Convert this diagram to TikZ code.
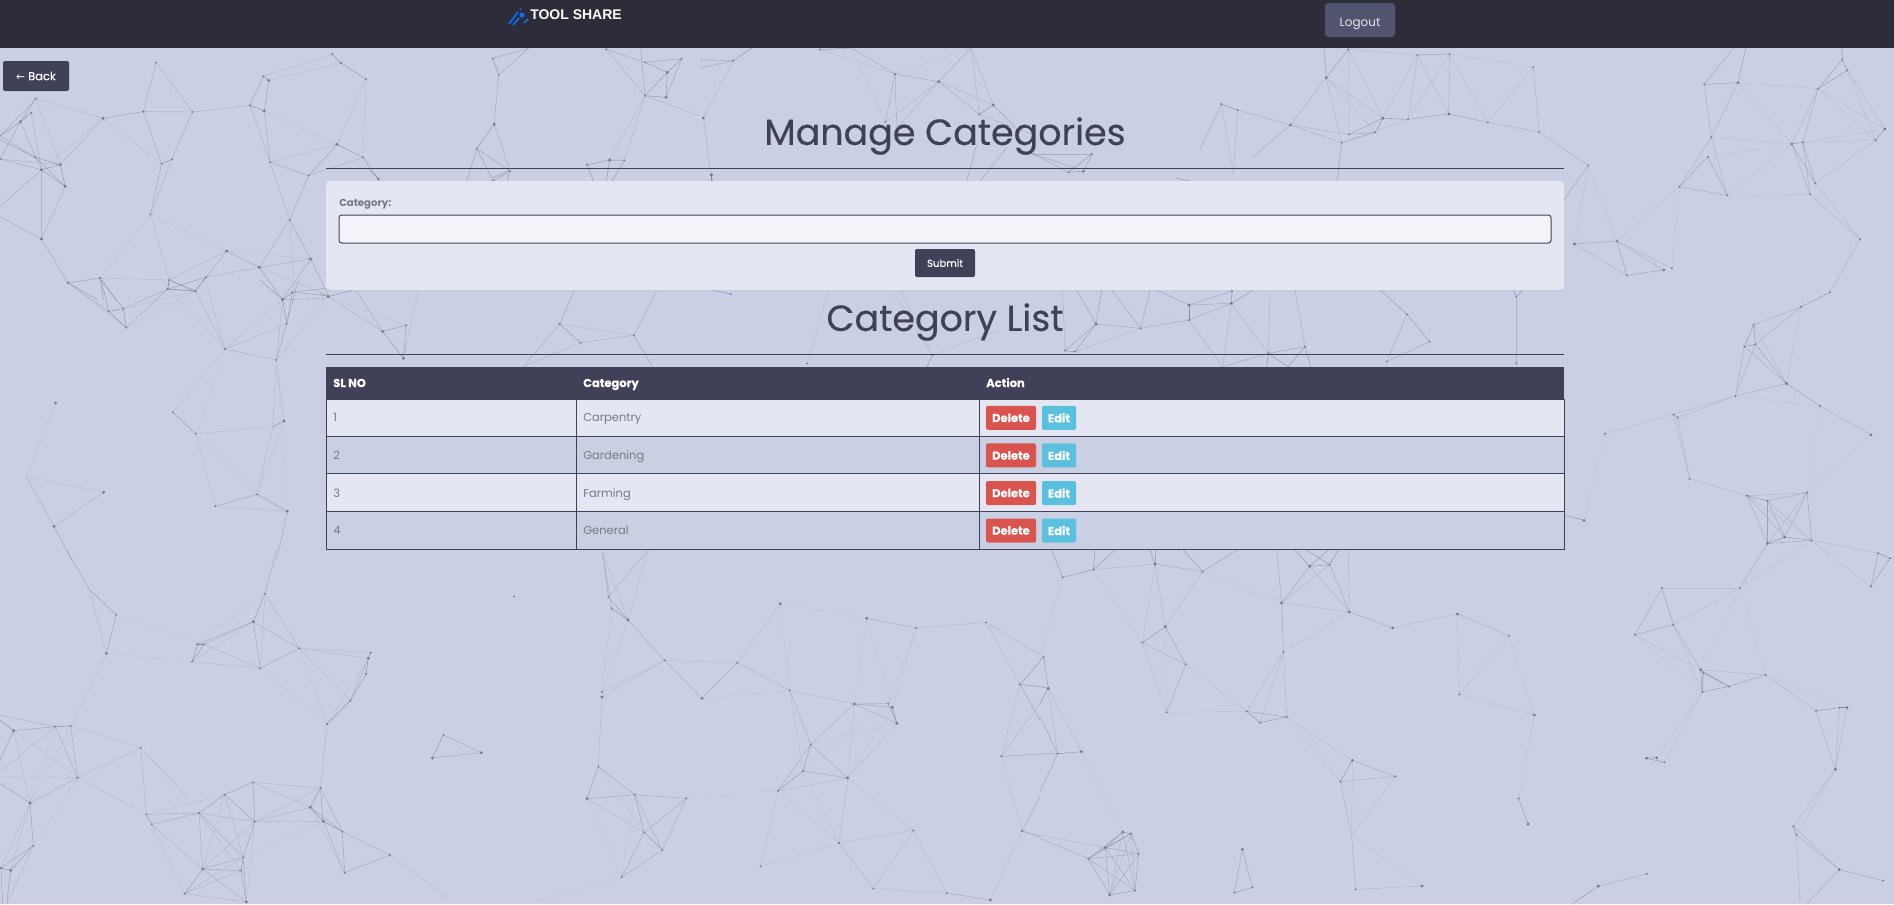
\documentclass[tikz,border=0pt]{standalone}
\usepackage{fontspec}
\setmainfont{Poppins}
\newfontfamily\arialfont{Liberation Sans}
\newfontfamily\arrowfont{DejaVu Sans}
\newfontfamily\mediumfont[FakeBold=.3]{Poppins}
\newfontfamily\heavyfont[BoldFeatures={FakeBold=.3}]{Poppins}
\usepackage{tikz}
\usetikzlibrary{positioning,calc,shadows}
\definecolor{pagebg}{HTML}{CAD0E4}
\definecolor{topbar}{HTML}{2D2D3A}
\definecolor{slate}{HTML}{3F4158}
\definecolor{cardbg}{HTML}{E4E7F1}
\definecolor{inputbg}{HTML}{F3F5FB}
\definecolor{logoutbg}{HTML}{50546F}
\definecolor{greytext}{HTML}{777A86}
\definecolor{delred}{HTML}{D9534F}
\definecolor{editblue}{HTML}{5BC0DE}
\definecolor{logoblue}{HTML}{0D6EFD}
\definecolor{netcol}{HTML}{5A5E76}
\definecolor{dotcol}{HTML}{73778F}
\tikzset{
  netline/.style={line width=.3pt},
  btn/.style={rectangle, rounded corners=1.5pt, inner sep=0pt, text=white, font=\fontsize{8.6}{10}\heavyfont\bfseries},
  celltxt/.style={anchor=west, inner sep=0pt, text=greytext, font=\fontsize{8.6}{10}\selectfont, text height=6.5pt, text depth=2pt},
  headtxt/.style={anchor=west, inner sep=0pt, text=white, font=\fontsize{8.6}{10}\heavyfont\bfseries, text height=6.5pt, text depth=2pt},
  heading/.style={inner sep=0pt, text=slate, font=\fontsize{27.3}{32}\mediumfont},
  rule/.style={draw=slate, line width=.75pt},
}
\newcommand{\netdots}[2]{\foreach \p in {#2} \fill[dotcol] \p circle [radius={.72*#1 pt}];}
% long links fade out: each segment of a chain gets its colour from its length
\newcommand{\netunit}[2]{\def\netxu{#1}\def\netyu{#2}}
\makeatletter
\def\netpath#1;{\net@walk#1\net@stop}
\def\net@walk(#1,#2)--(#3,#4){%
  \pgfmathsetmacro{\segpct}{max(6,min(60,72-.95*veclen((#3-#1)*\netxu,(#4-#2)*\netyu)))}%
  \draw[netline, draw=netcol!\segpct!pagebg] (#1,#2) -- (#3,#4);%
  \@ifnextchar-{\net@more{#3}{#4}}{\@ifnextchar({\net@walk}{\@gobble}}}
\def\net@more#1#2--{\net@walk(#1,#2)--}
\makeatother
\begin{document}
\begin{tikzpicture}[x=.75pt, y=-.75pt]
\fill[pagebg] (0,0) rectangle (1894,904);
\useasboundingbox (0,0) rectangle (1894,904);

% background network, left top
\begin{scope}[shift={(0,0)}, x=.3348pt, y=-.25pt]
\netunit{.3348}{.25}
\netpath (80,296)--(231,355)--(321,335)--(431,336)--(560,316)--(592,333)--(602,241)--(590,229)--(560,316);
\netpath (744,162)--(764,189)--(820,238) (590,229)--(744,162) (602,241)--(764,189);
\netpath (350,188)--(321,335) (350,188)--(431,336)--(385,478)--(362,491)--(321,335);
\netpath (80,296)--(46,365)--(0,477)--(135,494)--(80,296) (70,338)--(46,365)--(93,509)--(135,494) (70,338)--(93,509);
\netpath (0,408)--(46,365) (0,408)--(79,472)--(146,559)--(135,494) (93,509)--(146,559) (0,477)--(93,509) (0,420)--(79,472)--(135,494) (80,296)--(0,408);
\netpath (93,509)--(93,717)--(146,559) (0,650)--(93,717)--(153,849)--(224,834)--(379,840) (0,620)--(93,509);
\netpath (231,355)--(135,494) (231,355)--(93,509) (231,355)--(362,491)--(337,643)--(385,478) (337,643)--(379,840) (337,643)--(508,753) (337,643)--(224,834);
\netpath (560,316)--(605,487)--(691,527)--(755,433)--(813,472)--(848,538) (755,433)--(605,487) (592,333)--(755,433) (592,333)--(605,487);
\netpath (691,527)--(649,659)--(605,487) (820,238)--(755,433) (820,238)--(813,472)--(691,527);
\netpath (649,659)--(581,802) (649,659)--(696,777)--(736,888) (696,777)--(632,898) (649,659)--(660,880);
\netpath (508,753)--(581,802)--(696,777) (508,753)--(437,874)--(379,840) (508,753)--(379,840) (508,753)--(696,777) (581,802)--(736,888);
\netpath (581,802)--(461,832)--(376,867) (461,832)--(437,874)--(376,867)--(379,840) (581,802)--(632,898) (655,877)--(736,888);
\netpath (224,834)--(260,900) (153,849)--(220,900) (224,834)--(232,900);
\netpath (1104,175)--(1117,225)--(1107,373)--(1068,446)--(1143,514)--(1105,542)--(1068,446) (1104,175)--(1185,144) (1117,225)--(1185,144) (1107,373)--(1143,514) (1068,446)--(1045,545);
\netpath (1315,494)--(1366,480)--(1399,481)--(1370,545) (1315,494)--(1330,545) (1366,480)--(1358,545);
\netpath (1358,148)--(1445,187)--(1527,176)--(1495,217)--(1445,187) (1495,217)--(1445,287)--(1492,292)--(1495,217) (1527,176)--(1492,292);
\netpath (1435,144)--(1445,287)--(1568,348) (1358,148)--(1445,287) (1445,287)--(1365,480) (1445,287)--(1399,481);
\netdots{1.1}{(80,296),(321,335),(431,336),(560,316),(590,229),(744,162),(764,189),(820,238),(350,188),(385,478),(362,491),(0,477),(70,338),(79,472),(605,487),(691,527),(813,472),(848,538),(649,659),(153,849),(224,834),(379,840),(461,832),(437,874),(376,867),(632,898),(655,877),(736,888),(1104,175),(1117,225),(1068,446),(1143,514),(1105,542),(1315,494),(1399,481),(1358,148),(1445,187),(1527,176),(1445,287),(337,643)}
\netdots{1.6}{(231,355),(592,333),(602,241),(46,365),(135,494),(93,509),(146,559),(93,717),(755,433),(508,753),(581,802),(696,777),(1107,373),(1366,480),(1495,217),(1492,292)}
\end{scope}

% background network, right top
\begin{scope}[shift={(1200,0)}, x=.332pt, y=-.25pt]
\netunit{.332}{.25}
\netpath (335,148)--(285,233)--(204,375)--(320,428)--(396,397)--(413,355)--(285,233)--(320,428) (285,233)--(396,397) (48,312)--(85,330)--(204,375)--(336,403)--(396,397);
\netpath (336,403)--(413,355)--(470,358)--(562,342)--(650,367)--(766,396)--(877,496)--(942,723)--(846,732)--(964,826)--(942,723)--(1048,810)--(964,826);
\netpath (942,723)--(1066,805)--(1083,560)--(942,723) (877,496)--(846,732) (877,496)--(822,600);
\netpath (335,148)--(491,165)--(564,162)--(753,201)--(650,367) (753,201)--(766,396) (491,165)--(413,355) (491,165)--(470,358) (491,165)--(562,342)--(564,162)--(470,358) (564,162)--(650,367);
\netpath (335,148)--(336,403) (335,148)--(413,355) (320,428)--(470,358) (320,428)--(310,545) (48,312)--(75,520) (48,312)--(0,450) (85,330)--(75,520) (204,375)--(120,470) (280,144)--(285,233);
\netpath (1139,253)--(1215,248)--(1396,266)--(1451,178)--(1462,211)--(1396,266) (1450,144)--(1451,178) (1139,253)--(1155,412) (1215,248)--(1155,412) (1215,248)--(1337,432) (1233,144)--(1215,248) (1139,253)--(1205,144);
\netpath (1155,412)--(1337,432)--(1362,427)--(1526,421)--(1547,387)--(1396,266) (1462,211)--(1547,387) (1462,211)--(1526,421)--(1396,266)--(1337,432) (1396,266)--(1362,427);
\netpath (1155,412)--(1083,560)--(1147,471)--(1191,586)--(1083,560) (1155,412)--(1191,586)--(1337,432)--(1147,471) (1191,586)--(1378,583)--(1337,432)--(1390,550)--(1362,427)--(1378,583) (1390,550)--(1526,421);
\netpath (1378,583)--(1491,718)--(1423,877)--(1390,900) (1390,550)--(1491,718) (1362,427)--(1547,387);
\netdots{1.1}{(335,148),(320,428),(396,397),(48,312),(85,330),(336,403),(470,358),(650,367),(766,396),(877,496),(942,723),(964,826),(1066,805),(1083,560),(491,165),(564,162),(753,201),(1139,253),(1396,266),(1451,178),(1462,211),(1155,412),(1362,427),(1526,421),(1147,471),(1191,586),(1378,583),(1390,550),(1491,718),(1423,877)}
\netdots{1.6}{(285,233),(204,375),(413,355),(562,342),(846,732),(1048,810),(1215,248),(1337,432),(1547,387)}
\end{scope}

% background network, behind the first heading
\begin{scope}[shift={(700,48)}, x=.25pt, y=-.25pt]
\netunit{.25}{.25}
\netpath (0,35)--(100,38)--(10,210)--(33,380)--(40,405) (100,38)--(155,0) (0,60)--(100,38);
\netpath (360,5)--(455,0)--(585,78)--(716,101)--(813,0) (360,5)--(585,78)--(556,222)--(716,101)--(590,240)--(585,78)--(813,0) (455,0)--(556,222);
\netpath (716,101)--(838,199)--(880,171)--(716,101) (838,199)--(813,0)--(880,171)--(945,235) (838,199)--(1000,260);
\netpath (1000,318)--(1123,360)--(1176,318)--(1000,318) (1123,360)--(1105,373)--(1150,370)--(1176,318) (1000,318)--(1105,373);
\netpath (1428,390)--(1470,400) (800,400)--(830,290) (840,400)--(920,300);
\netdots{1.1}{(100,38),(360,5),(585,78),(838,199),(556,222),(1000,318),(1176,318),(1105,373),(33,380)}
\netdots{1.6}{(10,210),(716,101),(880,171),(1150,370)}
\end{scope}

% background network, between form and table
\begin{scope}[shift={(320,170)}, x=.3348pt, y=-.25pt]
\netunit{.3348}{.25}
\netpath (130,25)--(110,0) (425,0)--(420,33) (385,25)--(425,0) (877,15)--(877,33);
\netpath (18,380)--(140,484)--(193,466)--(187,565)--(140,484) (18,380)--(75,360) (18,380)--(0,370) (80,360)--(140,484) (220,360)--(187,565) (18,380)--(193,466);
\netpath (537,462)--(584,518)--(703,496)--(537,462)--(455,590) (584,518)--(455,590) (703,496)--(755,360) (703,496)--(745,590) (570,360)--(537,462) (920,372)--(880,360) (1091,580)--(1140,360);
\netpath (1372,555)--(1280,360) (1372,555)--(1300,360) (1372,555)--(1360,590) (1372,555)--(1520,480);
\netdots{1.1}{(130,25),(193,466),(537,462),(584,518),(703,496),(920,372),(1091,580),(1372,555)}
\netdots{1.6}{(18,380),(140,484),(187,565),(877,15)}
\end{scope}
\begin{scope}[shift={(1020,285)}, x=.25pt, y=-.25pt]
\netunit{.25}{.25}
\netpath (228,117)--(135,197)--(165,200)--(228,117)--(362,130)--(507,105)--(507,60)--(634,55)--(636,18)--(362,130) (507,105)--(634,55);
\netpath (228,117)--(170,15) (228,117)--(245,15) (135,197)--(128,15) (165,200)--(362,130)--(390,15) (362,130)--(275,15) (507,60)--(410,15) (507,60)--(636,18);
\netpath (507,105)--(608,245)--(634,55)--(745,205)--(855,185)--(872,245) (745,205)--(608,245) (745,205)--(805,245)--(855,185) (745,205)--(740,245) (634,55)--(700,15) (745,205)--(750,15) (855,185)--(825,15);
\netpath (1161,88)--(1100,230)--(1229,170)--(1161,88)--(1080,15) (1489,35)--(1489,235) (1489,35)--(1480,15) (1489,35)--(1510,15);
\netdots{1.1}{(135,197),(165,200),(362,130),(507,105),(636,18),(745,205),(855,185),(1161,88),(1100,230),(1229,170),(1489,35),(1489,235)}
\netdots{1.6}{(228,117),(507,60),(634,55)}
\end{scope}

% background network, bottom left
\begin{scope}[shift={(0,550)}, x=.25pt, y=-.25pt]
\netunit{.25}{.25}
\netpath (200,0)--(269,120)--(349,194)--(319,310)--(269,120) (349,194)--(612,283) (319,310)--(576,335);
\netpath (830,0)--(795,131)--(760,215)--(781,355)--(898,295)--(760,215) (795,131)--(898,295) (795,131)--(781,355) (795,131)--(592,283)--(760,215)--(612,283)--(576,335)--(592,283)--(612,283)--(781,355)--(576,335)--(760,215);
\netpath (898,295)--(1112,308)--(1105,325)--(898,295) (1105,325)--(1098,372)--(1051,452)--(981,522)--(898,295) (1112,308)--(1051,452) (898,295)--(1051,452) (1105,325)--(981,522) (781,355)--(981,522)--(962,714);
\netpath (0,495)--(165,530) (0,510)--(41,542)--(165,530)--(212,528)--(233,683)--(90,759)--(41,542)--(233,683)--(165,530)--(90,759)--(212,528)--(422,593)--(233,683);
\netpath (319,310)--(212,528) (41,542)--(0,630) (0,665)--(165,530) (0,680)--(233,683) (0,700)--(90,759)--(100,887)--(32,961)--(90,759) (100,887)--(3,954)--(32,961) (233,683)--(100,887)--(20,1062) (3,954)--(90,759) (32,961)--(20,1062) (3,954)--(8,1062);
\netpath (422,593)--(439,793)--(455,823)--(597,789)--(439,793)--(233,683) (422,593)--(560,740) (439,793)--(674,734) (455,823)--(608,957) (455,823)--(554,1031);
\netpath (597,789)--(674,734)--(759,697)--(764,815)--(674,734)--(730,922) (597,789)--(764,815)--(931,772)--(759,697) (674,734)--(608,957)--(597,789)--(730,922)--(764,815)--(608,957)--(730,922);
\netpath (597,789)--(723,962)--(608,957)--(554,1031)--(739,1056)--(608,957) (730,922)--(723,962)--(739,1056)--(730,922)--(554,1031)--(723,962) (739,1056)--(764,815)--(970,814)--(931,772)--(962,714)--(968,810);
\netpath (759,697)--(962,714)--(764,815) (962,714)--(1027,845)--(970,814)--(1034,968)--(1027,845)--(1170,915)--(1034,968) (931,772)--(1027,845) (931,772)--(1034,968) (730,922)--(970,814) (1170,915)--(1340,1040);
\netpath (1330,555)--(1444,608)--(1297,624)--(1330,555);
\netdots{1.1}{(349,194),(576,335),(795,131),(592,283),(612,283),(781,355),(898,295),(1112,308),(1098,372),(1051,452),(981,522),(962,714),(165,530),(212,528),(422,593),(100,887),(3,954),(439,793),(455,823),(597,789),(674,734),(759,697),(764,815),(730,922),(723,962),(554,1031),(1027,845),(1034,968),(1170,915),(1330,555),(1542,140),(233,683)}
\netdots{1.6}{(319,310),(760,215),(1105,325),(41,542),(90,759),(32,961),(608,957),(739,1056),(931,772),(970,814),(1444,608),(1297,624)}
\end{scope}

% background network, bottom middle
\begin{scope}[shift={(520,550)}, x=.25pt, y=-.25pt]
\netunit{.25}{.25}
\netpath (248,8)--(265,141)--(324,210)--(434,331)--(546,445)--(652,338)--(781,161)--(1040,205)--(1189,234)--(1398,217)--(1500,403)--(1560,335);
\netpath (248,8)--(275,175)--(324,210)--(248,8) (265,141)--(385,0) (324,210)--(385,0) (275,175)--(246,426)--(324,210) (246,426)--(434,331)--(246,441);
\netpath (434,331)--(652,338)--(809,421)--(781,161) (546,445)--(809,421)--(1003,462)--(1040,205) (809,421)--(872,583)--(1003,462)--(1117,472)--(1131,520)--(1003,462)--(1105,461)--(1131,520) (1189,234)--(1105,461) (1040,205)--(1117,472)--(1189,234);
\netpath (246,441)--(235,650)--(344,734)--(373,847)--(427,900)--(344,734) (235,650)--(201,746)--(344,734)--(499,745)--(427,900)--(305,981)--(373,847)--(499,745) (201,746)--(373,847) (201,746)--(305,981) (235,650)--(373,847) (344,734)--(305,981) (499,745)--(774,722) (305,981)--(50,1055);
\netpath (872,583)--(849,663)--(983,684)--(872,583)--(774,722)--(849,663) (774,722)--(983,684)--(1003,462) (983,684)--(1131,520)--(872,583) (1117,472)--(983,684) (1105,461)--(849,663)--(809,421) (849,663)--(957,879)--(983,684) (774,722)--(957,879) (774,722)--(722,949)--(957,879)--(1180,841)--(1060,1016)--(957,879);
\netpath (983,684)--(1180,841)--(1280,1029)--(1411,1050)--(1506,843)--(1560,860) (1060,1016)--(1280,1029);
\netpath (1398,217)--(1560,315) (1500,403)--(1560,410) (1500,403)--(1444,619)--(1560,612) (1444,619)--(1506,843) (1500,403)--(1560,510) (1444,619)--(1560,460) (1506,843)--(1560,740);
\netdots{1.1}{(265,141),(275,175),(434,331),(652,338),(809,421),(1189,234),(1398,217),(1500,403),(246,426),(344,734),(373,847),(427,900),(305,981),(499,745),(235,650),(872,583),(849,663),(774,722),(957,879),(1180,841),(1060,1016),(1280,1029),(1506,843),(1444,619),(722,949),(1105,461)}
\netdots{1.6}{(324,210),(546,445),(781,161),(1040,205),(1003,462),(1117,472),(1131,520),(246,441),(201,746),(983,684),(1411,1050)}
\end{scope}

% background network, bottom right of the table
\begin{scope}[shift={(1040,550)}, x=.25pt, y=-.25pt]
\netunit{.25}{.25}
\netpath (35,0)--(68,82)--(160,59)--(345,42)--(488,65)--(376,230)--(307,278)--(437,343)--(376,230)--(345,42)--(307,278) (160,59)--(225,0) (160,59)--(165,0) (345,42)--(330,0) (345,42)--(348,0) (488,65)--(430,0) (488,65)--(725,159) (160,59)--(307,278) (68,82)--(0,320) (488,65)--(590,0);
\netpath (437,343)--(380,487)--(307,278) (376,230)--(380,487)--(620,484)--(660,518)--(740,501)--(620,484) (437,343)--(620,484)--(730,306)--(660,518) (730,306)--(740,501) (725,159)--(730,306)--(928,186);
\netpath (725,159)--(809,49)--(869,44)--(725,159)--(928,186)--(809,49) (869,44)--(928,186)--(925,0) (809,49)--(765,0) (869,44)--(800,0) (869,44)--(895,0) (809,49)--(865,0) (725,159)--(710,0);
\netpath (928,186)--(1058,234)--(1252,192)--(1407,257)--(1258,433)--(1252,192) (1407,257)--(1483,495)--(1258,433) (1483,495)--(1436,745)--(1464,822);
\netpath (740,501)--(937,631)--(1066,679)--(901,695)--(937,631) (740,501)--(901,695) (937,631)--(935,857)--(901,695) (1066,679)--(935,857)--(947,1018)--(1146,1008)--(935,857);
\netpath (11,321)--(25,415)--(53,611)--(124,605)--(25,415) (25,415)--(0,410) (0,612)--(53,611)--(0,725) (25,415)--(0,460) (0,500)--(53,611) (11,321)--(0,330) (124,605)--(245,835);
\netpath (145,926)--(196,893)--(248,846)--(273,851)--(296,911)--(285,1022)--(209,1035)--(145,926)--(248,846) (145,926)--(273,851)--(209,1035) (145,926)--(296,911)--(196,893)--(285,1022) (196,893)--(209,1035) (145,926)--(285,1022)--(248,846)--(209,1035) (273,851)--(285,1022) (296,911)--(209,1035) (196,893)--(273,851) (0,855)--(196,893) (0,865)--(145,926);
\netpath (607,898)--(637,1012)--(583,1028)--(607,898);
\netdots{1.1}{(68,82),(160,59),(488,65),(307,278),(437,343),(380,487),(620,484),(660,518),(740,501),(730,306),(869,44),(1407,257),(1258,433),(1436,745),(1066,679),(901,695),(947,1018),(11,321),(53,611),(145,926),(273,851),(296,911),(285,1022),(583,1028),(637,1012)}
\netdots{1.6}{(345,42),(376,230),(725,159),(809,49),(928,186),(1058,234),(1252,192),(1483,495),(1464,822),(937,631),(1146,1008),(25,415),(124,605),(196,893),(248,846),(209,1035),(607,898)}
\end{scope}

% background network, right side
\begin{scope}[shift={(1560,300)}, x=.25pt, y=-.289pt]
\netunit{.25}{.289}
\netpath (723,18)--(581,64)--(553,121)--(586,115)--(723,18) (581,64)--(586,115)--(526,249)--(553,121)--(679,217)--(581,64) (586,115)--(679,217)--(526,249)--(340,297)--(135,347)--(72,572)--(12,558) (679,217)--(780,275)--(933,350) (723,18)--(679,217) (723,18)--(765,0);
\netpath (526,249)--(353,305)--(340,297)--(389,464)--(561,508) (353,305)--(389,464) (526,249)--(780,275)--(741,500)--(933,350);
\netpath (561,508)--(622,521)--(741,500)--(755,624)--(622,632)--(561,508)--(755,624)--(622,521)--(622,632)--(674,615)--(755,624) (622,521)--(674,615)--(741,500)--(622,632)--(540,747)--(755,624) (561,508)--(674,615) (561,508)--(741,500) (755,624)--(954,657)--(990,670)--(933,743)--(954,657) (755,624)--(933,743);
\netpath (306,747)--(540,747)--(340,843)--(224,869)--(306,747)--(340,843)--(422,960)--(430,968)--(427,1017)--(422,960) (224,869)--(422,960) (224,869)--(427,1017)--(340,843) (422,960)--(507,1003)--(617,973)--(422,960) (427,1017)--(507,1003)--(430,968) (540,747)--(617,973) (540,747)--(430,960);
\netpath (617,973)--(768,1066)--(838,1058)--(861,1058)--(826,1218)--(768,1066) (838,1058)--(826,1218)--(700,1366)--(709,1388)--(838,1478)--(700,1366) (826,1218)--(709,1388) (838,1478)--(970,1507) (838,1478)--(740,1568) (709,1388)--(720,1568) (617,973)--(861,1058);
\netpath (427,1017)--(290,1188)--(260,1189)--(313,1200)--(427,1017) (115,1521)--(261,1489) (115,1521)--(35,1568);
\netdots{1.1}{(723,18),(581,64),(553,121),(586,115),(526,249),(340,297),(353,305),(135,347),(389,464),(780,275),(561,508),(622,521),(741,500),(755,624),(954,657),(990,670),(933,743),(540,747),(340,843),(224,869),(306,747),(430,968),(427,1017),(507,1003),(617,973),(768,1066),(838,1058),(700,1366),(709,1388),(970,1507),(313,1200),(261,1489)}
\netdots{1.6}{(679,217),(933,350),(72,572),(622,632),(674,615),(422,960),(861,1058),(826,1218),(838,1478),(260,1189),(290,1188),(115,1521)}
\end{scope}

% background network, left side
\begin{scope}[shift={(0,280)}, x=.25pt, y=-.25pt]
\netunit{.25}{.25}
\netpath (204,8)--(379,143)--(326,94)--(370,86)--(379,143) (204,8)--(326,94)--(304,0)--(370,86)--(503,27)--(379,143) (370,86)--(587,33)--(503,27)--(507,0) (587,33)--(675,207)--(829,240)--(860,131)--(877,37)--(848,59)--(829,240) (587,33)--(507,0) (615,0)--(675,207)--(848,59) (675,207)--(860,131) (503,27)--(675,207) (860,131)--(895,0) (848,59)--(978,55) (829,240)--(978,55) (848,59)--(860,131) (848,59)--(780,0) (877,37)--(978,25) (379,143)--(587,33);
\netpath (675,207)--(519,397)--(587,461)--(818,441)--(852,423)--(829,240)--(818,441)--(771,643)--(852,423) (587,461)--(771,643)--(646,679)--(587,461) (675,207)--(587,461) (771,643)--(862,694)--(646,679) (829,240)--(862,694)--(830,840);
\netpath (167,369)--(79,590)--(311,637)--(162,739)--(79,590) (162,739)--(215,840);
\netdots{1.1}{(204,8),(379,143),(326,94),(370,86),(503,27),(587,33),(675,207),(829,240),(877,37),(860,131),(519,397),(587,461),(771,643),(646,679)}
\netdots{1.6}{(848,59),(852,423),(862,694),(167,369),(311,637),(162,739)}
\end{scope}

% top bar
\fill[topbar] (0,0) rectangle (1894,48);
\node[rectangle, rounded corners=2.2pt, fill=logoutbg, minimum width=52.5pt, minimum height=25.5pt, inner sep=0pt, text=white!85!logoutbg, font=\fontsize{9}{11}\selectfont, text height=9.5pt, text depth=0pt] (logout) at (1360,20) {Logout};
\node[inner sep=0pt, anchor=west, text=white, font=\arialfont\fontsize{10.5}{12}\bfseries] (brand) at (530,15) {TOOL SHARE};
\fill[logoblue] (522,15) circle [radius=1.9pt] (520.5,9) circle [radius=.8pt];
\draw[logoblue, line width=1.2pt] (509,24)--(518,12) (513,25)--(519,18) (524,23)--(528,19);

% back button and first heading
\node[btn, fill=slate, minimum width=49.5pt, minimum height=22.5pt, font=\fontsize{8.6}{10}\mediumfont] (back) at (36,76) {{\arrowfont\fontsize{8}{10}\selectfont ←} Back};
\node[heading] (manage) at (945,136) {Manage Categories};
\draw[rule] (326,168) -- (1564,168);

% form card
\node[rectangle, rounded corners=3pt, fill=cardbg, minimum width=928.5pt, minimum height=81.75pt, inner sep=0pt, drop shadow={shadow xshift=0pt, shadow yshift=-1pt, opacity=.1}] (card) at (945,235.5) {};
\node[inner sep=0pt, anchor=west, text=greytext, font=\fontsize{7.6}{9}\bfseries] (catlabel) at (339,204) {Category:};
\node[rectangle, rounded corners=2pt, draw=slate, line width=.75pt, fill=inputbg, minimum width=909pt, minimum height=21pt, inner sep=0pt] (catinput) at (945,229) {};
\node[btn, fill=slate, minimum width=45pt, minimum height=21pt, font=\fontsize{7.6}{9}\mediumfont] (submit) at (945,263) {Submit};

% second heading
\node[heading] (listhead) at (945,322) {Category List};
\draw[rule] (326,354) -- (1564,354);

% table
\fill[slate] (326,367) rectangle (1564,399.5);
\fill[cardbg] (326,399.5) rectangle (1564,436.8);
\fill[cardbg] (326,473.8) rectangle (1564,511.8);
\draw[rule] (326,399.5) rectangle (1564,549.8);
\foreach \ly in {436.8,473.8,511.8} \draw[rule] (326,\ly) -- (1564,\ly);
\foreach \lx in {576.3,979.4} \draw[rule] (\lx,399.5) -- (\lx,549.8);
\node[headtxt] (headsl) at (333,384) {SL NO};
\node[headtxt] (headcat) at (583,384) {Category};
\node[headtxt] (headact) at (986,384) {Action};
\foreach \n/\ty/\bt/\nm in {1/418/417.8/Carpentry, 2/456/455.4/Gardening, 3/494/493/Farming, 4/531/530.5/General} {
  \node[celltxt] (sl\n) at (333,\ty) {\n};
  \node[celltxt] (cat\n) at (583,\ty) {\nm};
  \node[btn, fill=delred, minimum width=37.5pt, minimum height=18pt] (del\n) at (1011,\bt) {Delete};
  \node[btn, fill=editblue, minimum width=25.5pt, minimum height=18pt] (edit\n) at (1059,\bt) {Edit};
}
\end{tikzpicture}
\end{document}
